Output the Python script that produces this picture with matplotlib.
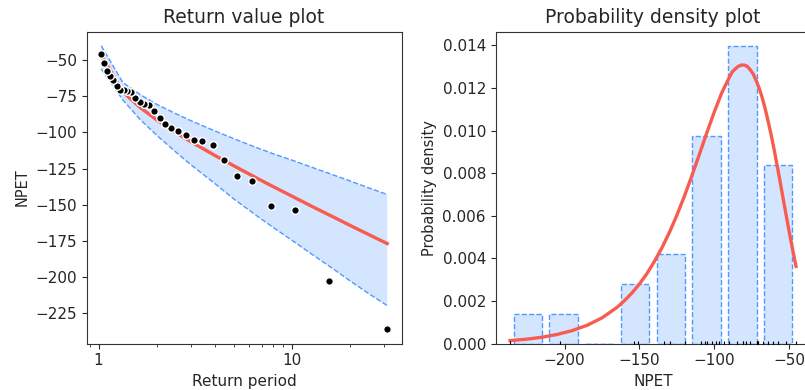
import matplotlib
matplotlib.use('Agg')
import matplotlib.pyplot as plt
from matplotlib.ticker import FormatStrFormatter, MultipleLocator, NullFormatter
import numpy as np

DPI = 100
RED = '#F85C50'
BLUE = '#5199FF'
TEXT = '#262626'

# observed extremes, sorted from most extreme, with their return periods
return_period = [31.0, 15.5, 10.33, 7.75, 6.2, 5.17, 4.43, 3.88, 3.44, 3.1,
                 2.82, 2.58, 2.38, 2.21, 2.07, 1.94, 1.82, 1.72, 1.63, 1.55,
                 1.48, 1.41, 1.35, 1.29, 1.24, 1.19, 1.15, 1.11, 1.07, 1.03]
npet = [-236.5, -203.1, -153.8, -151.2, -133.5, -129.9, -119.4, -109.0, -106.0, -104.9,
        -101.7, -99.1, -97.0, -93.8, -89.9, -84.9, -81.0, -80.5, -79.1, -76.4,
        -71.6, -71.3, -70.8, -70.5, -67.7, -63.8, -60.8, -57.4, -52.1, -45.4]

# fitted return values and confidence interval
model_period = [1.033, 1.336, 1.64, 2.0, 2.5, 3.0, 4.0, 5.0, 6.5, 8.0, 10.0, 13.0, 16.0, 20.0, 25.0, 31.0]
model_value = [-46.3, -71.9, -82.7, -91.3, -99.9, -106.4, -116.0, -123.1, -131.3, -137.6,
               -144.2, -152.0, -158.0, -164.5, -170.9, -177.0]
ci_upper = [-39.9, -65.4, -73.7, -80.5, -86.9, -91.8, -99.0, -104.3, -110.3, -114.8,
            -119.2, -124.7, -129.0, -133.7, -138.5, -143.0]
ci_lower = [-56.0, -77.5, -91.0, -102.0, -113.4, -122.4, -135.5, -146.1, -157.3, -165.9,
            -174.8, -185.5, -193.8, -203.0, -211.9, -220.0]

# fitted probability density
pdf_x = [-236.5, -225, -215, -205, -195, -185, -175, -165, -160, -155, -150, -145, -140, -135, -130,
         -125, -120, -115, -110, -105, -100, -95, -90, -88, -86, -84, -82, -80, -78, -76, -74, -72,
         -70, -68, -66, -64, -62, -60, -58, -56, -54, -52, -50, -47.7, -45.4]
pdf_y = [0.00014, 0.00021, 0.00030, 0.00043, 0.00061, 0.00086, 0.00121, 0.00170, 0.00202, 0.00238,
         0.00280, 0.00329, 0.00386, 0.00450, 0.00522, 0.00603, 0.00692, 0.00788, 0.00888, 0.00990,
         0.01088, 0.01178, 0.01250, 0.01276, 0.01290, 0.01302, 0.01308, 0.01308, 0.01302, 0.01286,
         0.01266, 0.01235, 0.01199, 0.01155, 0.01103, 0.01043, 0.00980, 0.00910, 0.00836, 0.00760,
         0.00681, 0.00603, 0.00527, 0.00443, 0.00363]
n_bins = 8

plt.rcParams.update({
    'text.color': TEXT, 'axes.labelcolor': TEXT, 'xtick.color': TEXT, 'ytick.color': TEXT,
    'axes.edgecolor': '#333333', 'xtick.labelsize': 11, 'ytick.labelsize': 11,
})


def plot_return_values(ax):
    ax.fill_between(model_period, ci_lower, ci_upper, facecolor=BLUE, edgecolor='none', alpha=0.25, zorder=5)
    ax.plot(model_period, ci_lower, color=BLUE, lw=1, ls='--', zorder=10)
    ax.plot(model_period, ci_upper, color=BLUE, lw=1, ls='--', zorder=10)
    ax.plot(model_period, model_value, color=RED, lw=2.4, zorder=15)
    ax.scatter(return_period, npet, s=30, marker='o', facecolor='k', edgecolor='w', lw=1, zorder=20)
    ax.set_xscale('log')
    ax.xaxis.set_major_formatter(FormatStrFormatter('%g'))
    ax.xaxis.set_minor_formatter(NullFormatter())
    ax.yaxis.set_major_locator(MultipleLocator(25))
    ax.set_title('Return value plot', fontsize=13.5)
    ax.set_xlabel('Return period', fontsize=11)
    ax.set_ylabel('NPET', fontsize=10.5)


def plot_density(ax):
    ax.hist(npet, bins=n_bins, density=True, rwidth=0.8, facecolor=(0.318, 0.6, 1.0, 0.25),
            edgecolor=BLUE, lw=1, ls='--', zorder=10)
    ax.plot(pdf_x, pdf_y, color=RED, lw=2.4, zorder=15)
    ax.scatter(npet, np.zeros(len(npet)), marker='|', s=25, color='k', lw=0.8, zorder=15)
    ax.xaxis.set_major_locator(MultipleLocator(50))
    ax.yaxis.set_major_locator(MultipleLocator(0.002))
    ax.yaxis.set_major_formatter(FormatStrFormatter('%.3f'))
    ax.set_title('Probability density plot', fontsize=13.5)
    ax.set_xlabel('NPET', fontsize=11)
    ax.set_ylabel('Probability density', fontsize=10.5)


fig = plt.figure(figsize=(8.05, 3.9), dpi=DPI)
ax_rv = fig.add_axes([0.1077, 0.119, 0.3911, 0.80])
ax_pdf = fig.add_axes([0.6158, 0.119, 0.3908, 0.80])
plot_return_values(ax_rv)
plot_density(ax_pdf)
fig.savefig('out.png', dpi=DPI)
